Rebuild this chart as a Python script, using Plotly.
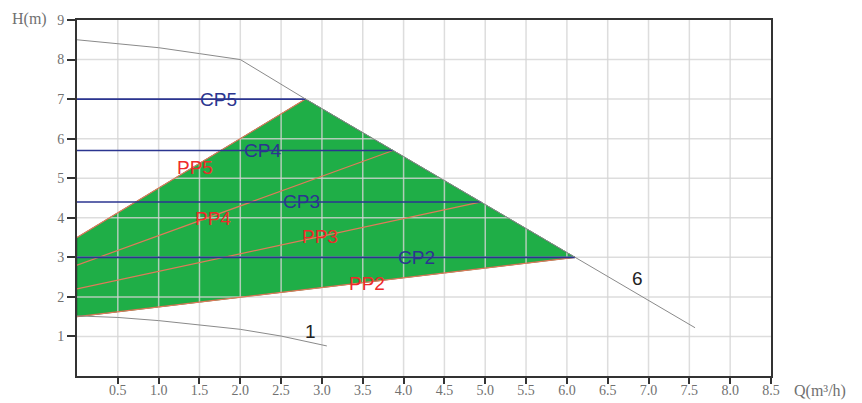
import plotly.graph_objects as go

# ---- data ----
max_q = [0, 0.5, 1.0, 1.5, 2.0, 2.8, 6.1, 7.57]
max_h = [8.5, 8.4, 8.3, 8.15, 8.0, 7.0, 3.0, 1.22]

min_q = [0, 0.5, 1.0, 1.5, 2.0, 2.5, 3.06]
min_h = [1.52, 1.48, 1.40, 1.29, 1.18, 1.01, 0.76]

region_q = [0, 6.1, 2.8, 0]
region_h = [1.5, 3.0, 7.0, 3.5]

cp_names = ["CP2", "CP3", "CP4", "CP5"]
cp_h = [3.0, 4.4, 5.7, 7.0]
cp_end_q = [6.1, 4.95, 3.87, 2.8]
cp_label_q = [4.16, 2.75, 2.27, 1.73]

pp_names = ["PP2", "PP3", "PP4", "PP5"]
pp_start_h = [1.5, 2.2, 2.8, 3.5]
pp_end_q = [6.1, 4.95, 3.87, 2.8]
pp_end_h = [3.0, 4.4, 5.7, 7.0]
pp_label_q = [3.55, 2.98, 1.67, 1.45]
pp_label_h = [2.33, 3.53, 3.99, 5.26]

x_ticks = [0.5, 1.0, 1.5, 2.0, 2.5, 3.0, 3.5, 4.0, 4.5, 5.0, 5.5, 6.0, 6.5, 7.0, 7.5, 8.0, 8.5]
x_ticktext = ["0.5", "1.0", "1.5", "2.0", "2.5", "3.0", "3.5", "4.0", "4.5", "5.0",
              "5.5", "6.0", "6.5", "7.0", "7.5", "8.0", "8.5"]
y_ticks = [1, 2, 3, 4, 5, 6, 7, 8, 9]

X_MAX = 8.5
Y_MAX = 9

CP_COLOR = "#2b3590"
PP_COLOR = "#e07a5a"
PP_TEXT = "#ee2a2a"
GREEN = "#1fae47"
GRID = "rgba(212,212,212,0.8)"

fig = go.Figure()

# green operating region
fig.add_trace(go.Scatter(x=region_q + [region_q[0]], y=region_h + [region_h[0]],
                         mode="lines", fill="toself", fillcolor=GREEN,
                         line=dict(color="#1d7a3a", width=1), hoverinfo="skip"))

# grid lines drawn above the fill
gx, gy = [], []
for v in x_ticks[:-1]:
    gx += [v, v, None]
    gy += [0, Y_MAX, None]
for v in y_ticks[:-1]:
    gx += [0, X_MAX, None]
    gy += [v, v, None]
fig.add_trace(go.Scatter(x=gx, y=gy, mode="lines", line=dict(color=GRID, width=1.5),
                         hoverinfo="skip"))

# PP lines
for i in range(len(pp_names)):
    fig.add_trace(go.Scatter(x=[0, pp_end_q[i]], y=[pp_start_h[i], pp_end_h[i]],
                             mode="lines", line=dict(color=PP_COLOR, width=1.2)))

# CP lines
for i in range(len(cp_names)):
    fig.add_trace(go.Scatter(x=[0, cp_end_q[i]], y=[cp_h[i], cp_h[i]],
                             mode="lines", line=dict(color=CP_COLOR, width=1.6)))

# max / min curves
fig.add_trace(go.Scatter(x=max_q, y=max_h, mode="lines",
                         line=dict(color="#8a8a8a", width=1)))
fig.add_trace(go.Scatter(x=min_q, y=min_h, mode="lines",
                         line=dict(color="#8a8a8a", width=1)))

LABEL_FONT = "Liberation Sans, Arial, sans-serif"
for i, n in enumerate(cp_names):
    fig.add_annotation(x=cp_label_q[i], y=cp_h[i], text=n, showarrow=False,
                       font=dict(family=LABEL_FONT, size=19, color=CP_COLOR))
for i, n in enumerate(pp_names):
    fig.add_annotation(x=pp_label_q[i], y=pp_label_h[i], text=n, showarrow=False,
                       font=dict(family=LABEL_FONT, size=19, color=PP_TEXT))
fig.add_annotation(x=2.86, y=1.12, text="1", showarrow=False,
                   font=dict(family=LABEL_FONT, size=19, color="#222"))
fig.add_annotation(x=6.86, y=2.47, text="6", showarrow=False,
                   font=dict(family=LABEL_FONT, size=19, color="#222"))

SERIF = "Liberation Serif, DejaVu Serif, serif"
TICK_FONT = dict(family=SERIF, size=14, color="#707070")
fig.add_annotation(xref="paper", yref="paper", x=1.0, y=0, xshift=21, yshift=-15,
                   xanchor="left", yanchor="middle", text="Q(m³/h)", showarrow=False,
                   font=dict(family=SERIF, size=16, color="#707070"))
fig.add_annotation(xref="paper", yref="paper", x=0, y=1, xshift=-28, yshift=1,
                   xanchor="right", yanchor="middle", text="H(m)", showarrow=False,
                   font=dict(family=SERIF, size=16, color="#707070"))

fig.update_layout(
    width=862, height=403,
    margin=dict(l=69, r=99, t=12, b=35, autoexpand=False),
    paper_bgcolor="white", plot_bgcolor="white",
    showlegend=False,
    xaxis=dict(range=[0, X_MAX], tickvals=x_ticks, ticktext=x_ticktext,
               showgrid=False, zeroline=False, showline=True, linecolor="#333",
               linewidth=2, mirror=True, ticks="outside", ticklen=6, tickwidth=2,
               tickcolor="#333", tickfont=TICK_FONT, ticklabelstandoff=-6,
               fixedrange=True, automargin=False),
    yaxis=dict(range=[0, Y_MAX], tickvals=y_ticks, showgrid=False, zeroline=False,
               showline=True, linecolor="#333", linewidth=2, mirror=True,
               ticks="outside", ticklen=8, tickwidth=2, tickcolor="#333",
               tickfont=TICK_FONT, fixedrange=True, automargin=False),
)

fig.write_html("out.html")
